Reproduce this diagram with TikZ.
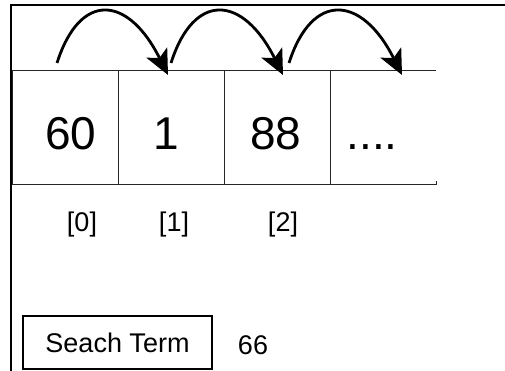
\documentclass[tikz,border=0pt]{standalone}
\usepackage{fontspec}
\setmainfont{Liberation Sans}
\usetikzlibrary{arrows.meta, positioning}

\tikzset{
  cell/.style={draw=black!85, line width=0.8pt, outer sep=0pt, minimum width=106pt, minimum height=114pt, inner sep=0pt},
  val/.style={anchor=base, font=\fontsize{46}{50}\selectfont},
  idx/.style={anchor=base, font=\fontsize{27}{30}\selectfont},
  hop/.style={line width=2.8pt, -{Stealth[length=25pt, width=23pt, inset=6pt]}},
  termbox/.style={draw, line width=2.5pt, minimum width=189pt, minimum height=53pt, font=\fontsize{27}{30}\selectfont}
}

\begin{document}
\begin{tikzpicture}[x=1pt, y=1pt]
  \useasboundingbox (0,0) rectangle (505,371);

  % frame
  \draw[line width=2.8pt] (11,0) -- (11,366) -- (505,366);

  % array cells
  \node[cell] (c0) at (65,244) {};
  \node[cell, right=0pt of c0] (c1) {};
  \node[cell, right=0pt of c1] (c2) {};
  \node[cell, draw=none, right=0pt of c2] (c3) {};
  \draw[black!85, line width=0.8pt] (c3.north west) -- (c3.north east);
  \draw[black!85, line width=0.8pt] (c3.south west) -- (c3.south east) -- ++(0,3);

  % values
  \node[val] (v0) at (71,221) {60};
  \node[val] (v1) at (166,221) {1};
  \node[val] (v2) at (276,221) {88};
  \node[val] (v3) at (372,221) {....};

  % indices
  \node[idx] (i0) at (82,139) {[0]};
  \node[idx] (i1) at (174,139) {[1]};
  \node[idx] (i2) at (283,139) {[2]};

  % hops between cells
  \foreach \sx/\tx [count=\i] in {57/168, 171/283, 289/402} {
    \coordinate (s\i) at (\sx,308);
    \coordinate (t\i) at (\tx,296);
    \draw[hop] (s\i) .. controls +(23,72) and +(-40,80) .. (t\i);
  }

  % search term
  \node[termbox] (term) at (117.5,28.5) {Seach Term};
  \node[idx] (key) at (253,16) {66};
\end{tikzpicture}
\end{document}
